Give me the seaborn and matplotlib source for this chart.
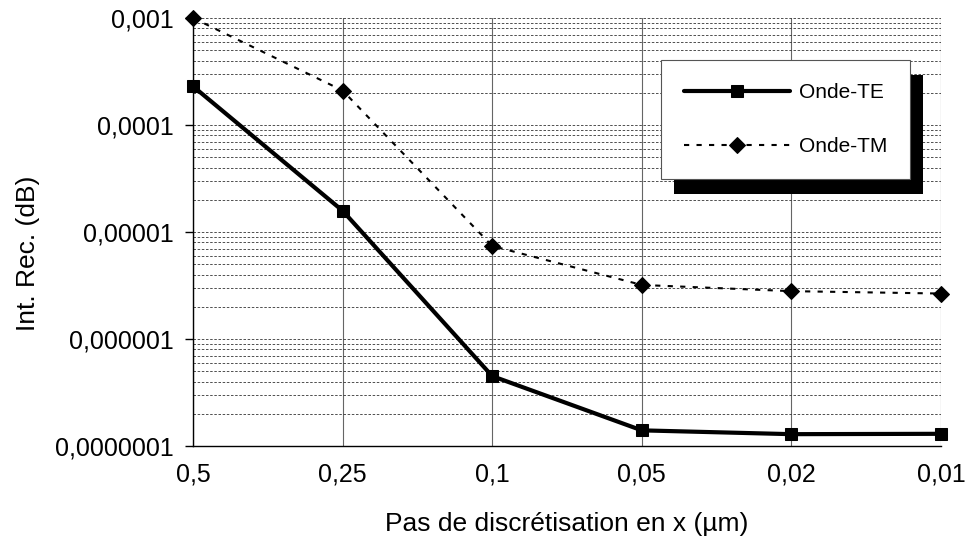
import matplotlib
matplotlib.use("Agg")
import matplotlib.pyplot as plt
import seaborn as sns
import pandas as pd
import numpy as np
from matplotlib.ticker import FixedLocator, FixedFormatter, LogLocator, NullFormatter
from matplotlib.patches import Rectangle

# ---- data ----
categories = ["0,5", "0,25", "0,1", "0,05", "0,02", "0,01"]
onde_te = [2.3e-4, 1.58e-5, 4.5e-7, 1.4e-7, 1.29e-7, 1.3e-7]
onde_tm = [1.0e-3, 2.1e-4, 7.4e-6, 3.2e-6, 2.8e-6, 2.66e-6]
series_names = ["Onde-TE", "Onde-TM"]
ytick_values = [1e-7, 1e-6, 1e-5, 1e-4, 1e-3]
ytick_labels = ["0,0000001", "0,000001", "0,00001", "0,0001", "0,001"]
x_label = "Pas de discrétisation en x (µm)"
y_label = "Int. Rec. (dB)"

df = pd.DataFrame({
    "pas": categories * 2,
    "val": onde_te + onde_tm,
    "serie": [series_names[0]] * len(categories) + [series_names[1]] * len(categories),
})

sns.set_theme(style="white")
plt.rcParams["font.family"] = ["Liberation Sans", "DejaVu Sans"]

fig = plt.figure(figsize=(9.7, 5.46), dpi=100)
ax = fig.add_axes([193 / 970, 1 - 446 / 546, (941 - 193) / 970, (446 - 18) / 546])

sns.lineplot(
    data=df, x="pas", y="val", hue="serie", style="serie", size="serie",
    palette={series_names[0]: "black", series_names[1]: "black"},
    markers={series_names[0]: "s", series_names[1]: "D"},
    dashes={series_names[0]: "", series_names[1]: (2.5, 3.5)},
    sizes={series_names[0]: 3.0, series_names[1]: 1.5},
    markersize=8, markeredgecolor="black", clip_on=False,
    ax=ax, zorder=3,
)

ax.set_yscale("log")
ax.set_ylim(1e-7, 1e-3)
ax.set_xlim(0, len(categories) - 1)
ax.yaxis.set_major_locator(FixedLocator(ytick_values))
ax.yaxis.set_major_formatter(FixedFormatter(ytick_labels))
ax.yaxis.set_minor_locator(LogLocator(base=10, subs=np.arange(2, 10)))
ax.yaxis.set_minor_formatter(NullFormatter())

ax.grid(which="both", axis="y", linestyle=(0, (3, 2)), color="#333333", linewidth=0.6)
ax.grid(which="major", axis="x", linestyle="-", color="#666666", linewidth=0.8)
ax.set_axisbelow(True)

for s in ["top", "right"]:
    ax.spines[s].set_visible(False)
for s in ["left", "bottom"]:
    ax.spines[s].set_visible(True)
    ax.spines[s].set_color("black")
    ax.spines[s].set_linewidth(1.0)

ax.tick_params(axis="y", which="major", direction="out", length=6, width=1,
               color="black", left=True, labelsize=18, pad=8)
ax.tick_params(axis="y", which="minor", left=False)
ax.tick_params(axis="x", which="major", length=0, labelsize=18, pad=12)
for lab in ax.get_xticklabels() + ax.get_yticklabels():
    lab.set_color("black")

ax.set_xlabel(x_label, fontsize=19, color="black", labelpad=18)
ax.set_ylabel(y_label, fontsize=19, color="black")
ax.yaxis.set_label_coords(-0.205, 0.45)

handles, labels = ax.get_legend_handles_labels()
keep = [(h, l) for h, l in zip(handles, labels) if l in series_names]
if ax.get_legend() is not None:
    ax.get_legend().remove()
leg = ax.legend(
    [h for h, _ in keep], [l for _, l in keep],
    loc="upper left", bbox_to_anchor=(0.626, 0.902), borderaxespad=0,
    frameon=True, fancybox=False, framealpha=1, facecolor="white",
    edgecolor="#555555", fontsize=15, handlelength=5.1, handletextpad=0.4,
    labelspacing=1.7, borderpad=1.1,
)
leg.get_frame().set_linewidth(0.8)
leg.set_zorder(6)
for t in leg.get_texts():
    t.set_color("black")

fig.canvas.draw()
bb = leg.get_window_extent()
inv = ax.transAxes.inverted()
(x0, y0) = inv.transform((bb.x0 + 13, bb.y0 - 15))
(x1, y1) = inv.transform((bb.x1 + 13, bb.y1 - 15))
shadow = Rectangle((x0, y0), x1 - x0, y1 - y0, transform=ax.transAxes,
                   facecolor="black", edgecolor="none", clip_on=False, zorder=5.5)
ax.add_patch(shadow)

fig.savefig("out.png", dpi=100, facecolor="white")
